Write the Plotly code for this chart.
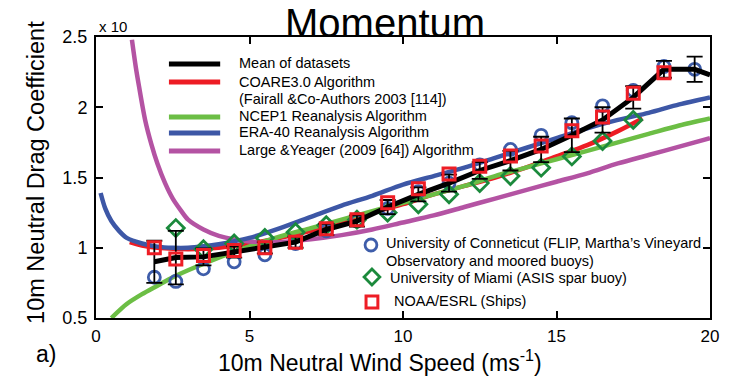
import plotly.graph_objects as go

# ---------------- data ----------------
ws_bins = [1.9, 2.6, 3.5, 4.5, 5.5, 6.5, 7.5, 8.5, 9.5, 10.5, 11.5, 12.5, 13.5, 14.5, 15.5, 16.5, 17.5, 18.5, 19.5]

mean_ws = ws_bins + [20.0]
mean_cd = [0.90, 0.93, 0.935, 0.97, 1.00, 1.04, 1.13, 1.19, 1.29, 1.38, 1.46, 1.55, 1.62, 1.70, 1.80, 1.91, 2.07, 2.27, 2.27, 2.23]
mean_err = [0.15, 0.19, 0.06, 0.04, 0.04, 0.04, 0.04, 0.04, 0.05, 0.05, 0.06, 0.06, 0.07, 0.09, 0.12, 0.09, 0.08, 0.06, 0.09]

uconn_ws = ws_bins
uconn_cd = [0.79, 0.76, 0.85, 0.90, 0.95, 1.03, 1.12, 1.19, 1.28, 1.40, 1.46, 1.59, 1.70, 1.80, 1.89, 2.01, 2.12, 2.29, 2.27]

miami_ws = [2.6, 3.5, 4.5, 5.5, 6.5, 7.5, 8.5, 9.5, 10.5, 11.5, 12.5, 13.5, 14.5, 15.5, 16.5, 17.5]
miami_cd = [1.14, 0.99, 1.03, 1.07, 1.11, 1.16, 1.20, 1.25, 1.31, 1.38, 1.46, 1.51, 1.57, 1.65, 1.76, 1.91]

noaa_ws = [1.9, 2.6, 3.5, 4.5, 5.5, 6.5, 7.5, 8.5, 9.5, 10.5, 11.5, 12.5, 13.5, 14.5, 15.5, 16.5, 17.5, 18.5]
noaa_cd = [1.00, 0.92, 0.945, 0.98, 1.00, 1.04, 1.135, 1.20, 1.32, 1.42, 1.525, 1.58, 1.653, 1.725, 1.833, 1.93, 2.10, 2.245]

coare_ws = [1.1, 1.5, 2, 3, 4, 5, 6, 7, 8, 9, 10, 11, 12, 13, 14, 15, 16, 17, 17.8]
coare_cd = [1.04, 1.015, 1.0, 0.99, 1.0, 1.03, 1.07, 1.12, 1.18, 1.25, 1.31, 1.38, 1.44, 1.50, 1.57, 1.65, 1.73, 1.83, 1.92]

ncep_ws = [0.5, 1, 1.5, 2, 2.5, 3, 4, 5, 6, 7, 8, 9, 10, 11, 12, 13, 14, 15, 16, 17, 18, 19, 20]
ncep_cd = [0.50, 0.60, 0.67, 0.73, 0.79, 0.84, 0.93, 1.01, 1.08, 1.14, 1.20, 1.26, 1.32, 1.38, 1.44, 1.51, 1.57, 1.63, 1.69, 1.75, 1.81, 1.87, 1.92]

era_ws = [0.15, 0.3, 0.5, 0.75, 1, 1.5, 2, 2.5, 3, 3.5, 4, 5, 6, 7, 8, 9, 10, 11, 12, 13, 14, 15, 16, 17, 18, 19, 20]
era_cd = [1.39, 1.28, 1.19, 1.12, 1.07, 1.03, 1.008, 1.0, 1.0, 1.01, 1.025, 1.07, 1.14, 1.22, 1.30, 1.37, 1.45, 1.51, 1.57, 1.64, 1.71, 1.78, 1.85, 1.91, 1.96, 2.02, 2.07]

ly_ws = [1.17, 1.3, 1.4, 1.6, 1.8, 2.0, 2.25, 2.5, 2.75, 3.0, 3.5, 4, 5, 6, 7, 8, 9, 10, 11, 12, 13, 14, 15, 16, 17, 18, 19, 20]
ly_cd = [2.48, 2.28, 2.15, 1.91, 1.74, 1.60, 1.46, 1.35, 1.27, 1.20, 1.13, 1.085, 1.045, 1.04, 1.06, 1.09, 1.13, 1.18, 1.23, 1.29, 1.35, 1.41, 1.47, 1.53, 1.60, 1.66, 1.72, 1.78]

x_ticks = [0, 5, 10, 15, 20]
y_ticks = [0.5, 1, 1.5, 2, 2.5]

line_labels = ["Mean of datasets", "COARE3.0 Algorithm", "(Fairall &Co-Authors 2003 [114])",
               "NCEP1 Reanalysis Algorithm", "ERA-40 Reanalysis Algorithm",
               "Large &Yeager (2009 [64]) Algorithm"]
marker_labels = ["University of Conneticut (FLIP, Martha\u2019s Vineyard",
                 "Observatory and moored buoys)",
                 "University of Miami (ASIS spar buoy)",
                 "NOAA/ESRL (Ships)"]

# ---------------- style ----------------
C_BLACK = "#000000"
C_RED = "#ED1C24"
C_GREEN = "#6CBE45"
C_BLUE = "#3D57A6"
C_MAG = "#B453A3"
C_CIRC = "#3E5DAA"
C_DIAM = "#1B8A3C"
C_SQ = "#EE1D25"
FONT = "Liberation Sans, Arial, Helvetica, sans-serif"

W, H = 731, 381
L, R, T, B = 96, 12, 37, 63
PW, PH = W - L - R, H - T - B


def xp(px):
    return (px - L) / PW


def yp(py):
    return (H - B - py) / PH


fig = go.Figure()

LW = 4.5
for xs, ys, col in [(coare_ws, coare_cd, C_RED), (ncep_ws, ncep_cd, C_GREEN),
                    (ly_ws, ly_cd, C_MAG), (era_ws, era_cd, C_BLUE)]:
    fig.add_trace(go.Scatter(x=xs, y=ys, mode="lines",
                             line=dict(color=col, width=LW, shape="spline", smoothing=0.8),
                             showlegend=False, hoverinfo="skip"))

fig.add_trace(go.Scatter(x=uconn_ws, y=uconn_cd, mode="markers",
                         marker=dict(symbol="circle-open", size=12, color=C_CIRC, line=dict(width=2.8, color=C_CIRC)),
                         showlegend=False))
fig.add_trace(go.Scatter(x=miami_ws, y=miami_cd, mode="markers",
                         marker=dict(symbol="diamond-open", size=13, color=C_DIAM, line=dict(width=2.8, color=C_DIAM)),
                         showlegend=False))

# mean line + error bars
fig.add_trace(go.Scatter(x=mean_ws, y=mean_cd, mode="lines",
                         line=dict(color=C_BLACK, width=5), showlegend=False))
fig.add_trace(go.Scatter(x=ws_bins, y=mean_cd[:len(ws_bins)], mode="markers",
                         marker=dict(size=1, color=C_BLACK, opacity=0),
                         error_y=dict(type="data", array=mean_err, color=C_BLACK, thickness=1.8, width=8),
                         showlegend=False))

fig.add_trace(go.Scatter(x=noaa_ws, y=noaa_cd, mode="markers",
                         marker=dict(symbol="square-open", size=12, color=C_SQ, line=dict(width=3, color=C_SQ)),
                         showlegend=False))

shapes = []
annotations = []

# top legend (lines)
leg_rows = [(64, 0, C_BLACK), (82, 1, C_RED), (None, 2, None), (117, 3, C_GREEN),
            (133, 4, C_BLUE), (151, 5, C_MAG)]
text_y = [63.5, 81.5, 98.5, 116, 132, 150]
for (ly, idx, col), ty in zip(leg_rows, text_y):
    if ly is not None:
        shapes.append(dict(type="line", xref="paper", yref="paper", x0=xp(170), x1=xp(222),
                           y0=yp(ly), y1=yp(ly), line=dict(color=col, width=5)))
    annotations.append(dict(text=line_labels[idx], xref="paper", yref="paper", x=xp(239), y=yp(ty),
                            xanchor="left", yanchor="middle", showarrow=False,
                            font=dict(size=14.5, color="black", family=FONT)))

# bottom legend (markers)
mk_text = [(388, 243, 0), (388, 261, 1), (392, 278, 2), (396, 300.5, 3)]
for tx, ty, idx in mk_text:
    annotations.append(dict(text=marker_labels[idx], xref="paper", yref="paper", x=xp(tx), y=yp(ty),
                            xanchor="left", yanchor="middle", showarrow=False,
                            font=dict(size=14.5, color="black", family=FONT)))
# circle symbol
cx, cy, r = 375, 245, 6
shapes.append(dict(type="circle", xref="paper", yref="paper", x0=xp(cx - r), x1=xp(cx + r),
                   y0=yp(cy + r), y1=yp(cy - r), line=dict(color=C_CIRC, width=2.8)))
# diamond symbol
dx, dy, d = 376, 277, 8
shapes.append(dict(type="path", xref="paper", yref="paper",
                   path=f"M {xp(dx)} {yp(dy - d)} L {xp(dx + d)} {yp(dy)} L {xp(dx)} {yp(dy + d)} L {xp(dx - d)} {yp(dy)} Z",
                   line=dict(color=C_DIAM, width=2.8)))
# square symbol
sx, sy, s = 376, 302, 6
shapes.append(dict(type="rect", xref="paper", yref="paper", x0=xp(sx - s), x1=xp(sx + s),
                   y0=yp(sy + s), y1=yp(sy - s), line=dict(color=C_SQ, width=3)))

# titles and misc text
annotations += [
    dict(text="Momentum", xref="paper", yref="paper", x=xp(389), y=1, yanchor="bottom", yshift=-10,
         xanchor="center", showarrow=False, font=dict(size=40, color="black", family=FONT)),
    dict(text="x 10", xref="paper", yref="paper", x=xp(97), y=yp(26), xanchor="left", yanchor="middle",
         showarrow=False, font=dict(size=15, color="black", family=FONT)),
    dict(text="a)", xref="paper", yref="paper", x=xp(45), y=yp(354), xanchor="center", yanchor="middle",
         showarrow=False, font=dict(size=23, color="black", family=FONT)),
    dict(text="10m Neutral Drag Coefficient", xref="paper", yref="paper", x=xp(35), y=yp(172),
         textangle=-90, xanchor="center", yanchor="middle", showarrow=False,
         font=dict(size=23.5, color="black", family=FONT)),
    dict(text="10m Neutral Wind Speed (ms<sup>-1</sup>)", xref="paper", yref="paper", x=xp(384), y=yp(361),
         xanchor="center", yanchor="middle", showarrow=False,
         font=dict(size=23, color="black", family=FONT)),
]

fig.update_layout(
    width=W, height=H, margin=dict(l=L, r=R, t=T, b=B),
    plot_bgcolor="white", paper_bgcolor="white",
    shapes=shapes, annotations=annotations, showlegend=False,
    font=dict(family=FONT, color="black"),
)
fig.update_xaxes(range=[0, 20], tickvals=x_ticks, ticktext=[str(v) for v in x_ticks],
                 ticks="inside", ticklen=7, tickwidth=1.5, tickcolor="black",
                 showline=True, linecolor="black", linewidth=2, mirror="ticks",
                 showgrid=False, zeroline=False, tickfont=dict(size=17, family=FONT),
                 ticklabelstandoff=2)
fig.update_yaxes(range=[0.5, 2.5], tickvals=y_ticks, ticktext=["0.5", "1", "1.5", "2", "2.5"],
                 ticks="inside", ticklen=7, tickwidth=1.5, tickcolor="black",
                 showline=True, linecolor="black", linewidth=2, mirror="ticks",
                 showgrid=False, zeroline=False, tickfont=dict(size=18, family=FONT),
                 ticklabelstandoff=3)

fig.write_html("out.html")
